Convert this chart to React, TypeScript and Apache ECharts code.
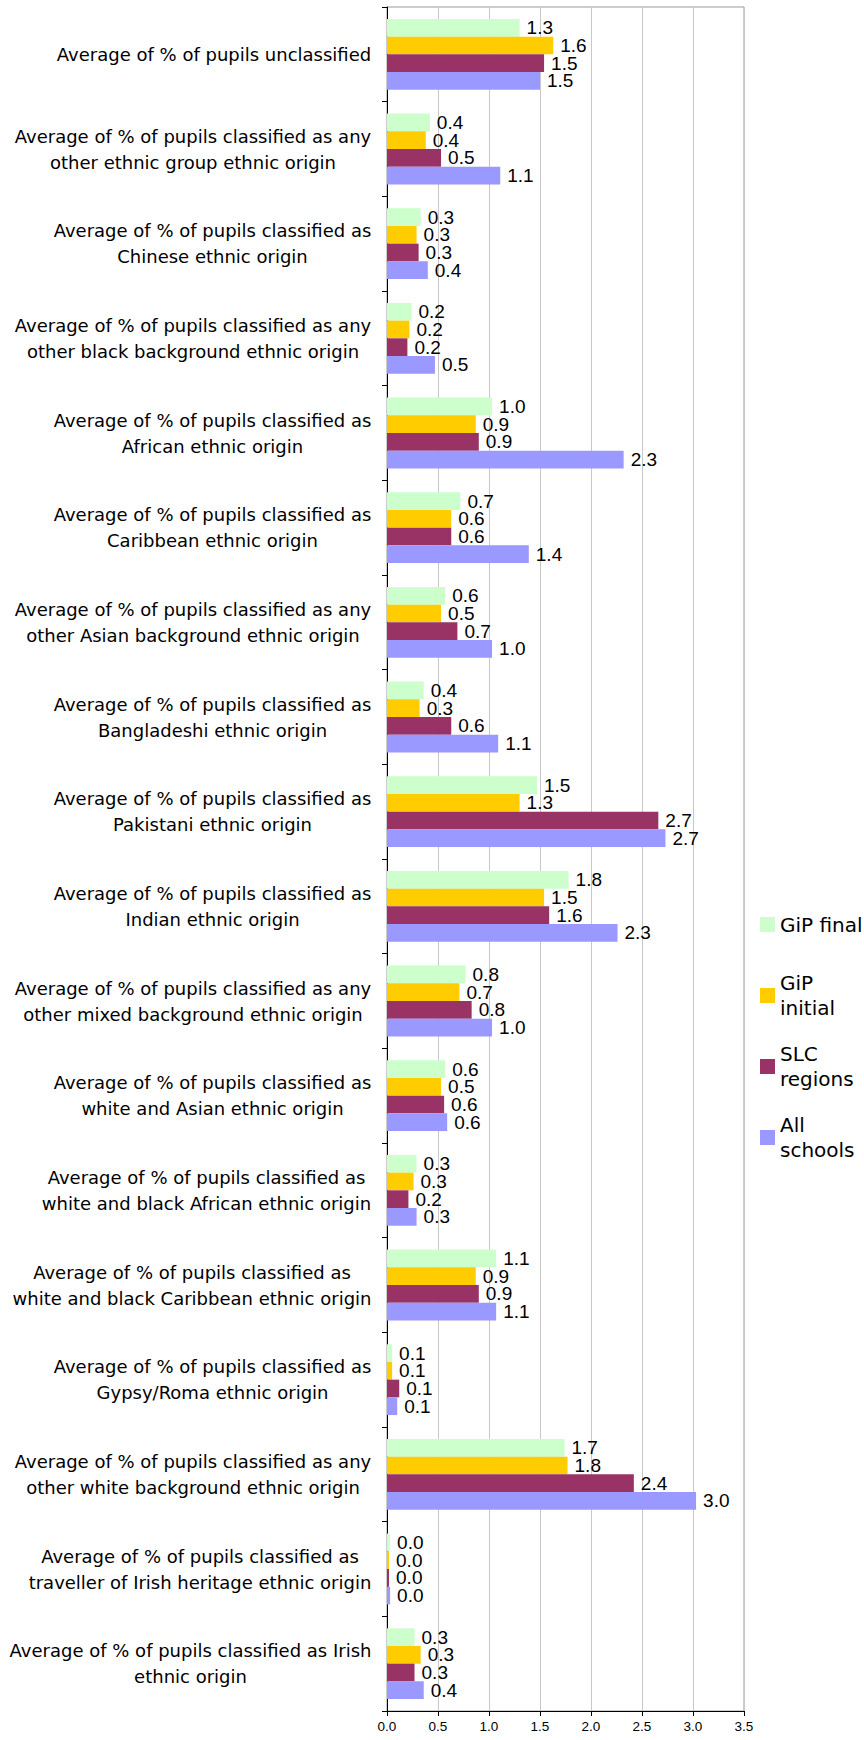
import React, { useEffect, useRef } from "react";
import * as echarts from "echarts";

const categories: string[] = [
  "Average of % of pupils unclassified",
  "Average of % of pupils classified as any\nother ethnic group ethnic origin",
  "Average of % of pupils classified as\nChinese ethnic origin",
  "Average of % of pupils classified as any\nother black background ethnic origin",
  "Average of % of pupils classified as\nAfrican ethnic origin",
  "Average of % of pupils classified as\nCaribbean ethnic origin",
  "Average of % of pupils classified as any\nother Asian background ethnic origin",
  "Average of % of pupils classified as\nBangladeshi ethnic origin",
  "Average of % of pupils classified as\nPakistani ethnic origin",
  "Average of % of pupils classified as\nIndian ethnic origin",
  "Average of % of pupils classified as any\nother mixed background ethnic origin",
  "Average of % of pupils classified as\nwhite and Asian ethnic origin",
  "Average of % of pupils classified as\nwhite and black African ethnic origin",
  "Average of % of pupils classified as\nwhite and black Caribbean ethnic origin",
  "Average of % of pupils classified as\nGypsy/Roma ethnic origin",
  "Average of % of pupils classified as any\nother white background ethnic origin",
  "Average of % of pupils classified as\ntraveller of Irish heritage ethnic origin",
  "Average of % of pupils classified as Irish\nethnic origin",
];

const seriesNames: string[] = ["GiP final", "GiP initial", "SLC regions", "All schools"];

const gipFinal: number[] = [1.30, 0.42, 0.33, 0.24, 1.03, 0.72, 0.57, 0.36, 1.47, 1.78, 0.77, 0.57, 0.29, 1.07, 0.05, 1.74, 0.03, 0.27];
const gipInitial: number[] = [1.63, 0.38, 0.29, 0.22, 0.87, 0.63, 0.53, 0.32, 1.30, 1.54, 0.71, 0.53, 0.26, 0.87, 0.05, 1.77, 0.02, 0.33];
const slcRegions: number[] = [1.54, 0.53, 0.31, 0.20, 0.90, 0.63, 0.69, 0.63, 2.66, 1.59, 0.83, 0.56, 0.21, 0.90, 0.12, 2.42, 0.02, 0.27];
const allSchools: number[] = [1.50, 1.11, 0.40, 0.47, 2.32, 1.39, 1.03, 1.09, 2.73, 2.26, 1.03, 0.59, 0.29, 1.07, 0.10, 3.03, 0.03, 0.36];

const seriesColors: string[] = ["#CCFFCC", "#FFCC00", "#993366", "#9999FF"];

const xTicks = { min: 0, max: 3.5, interval: 0.5 };

const CAT_FAMILY = "DejaVu Sans";
const CAT_SIZE = 18;

function maxLineWidth(text: string): number {
  const ctx = document.createElement("canvas").getContext("2d");
  if (!ctx) return 300;
  ctx.font = `${CAT_SIZE}px "${CAT_FAMILY}"`;
  return Math.max(...text.split("\n").map((l) => ctx.measureText(l).width));
}

export default function App() {
  const ref = useRef<HTMLDivElement>(null);

  useEffect(() => {
    document.body.style.margin = "0";
    if (!ref.current) return;
    const chart = echarts.init(ref.current, undefined, { renderer: "svg" });

    const rich: Record<string, any> = {};
    categories.forEach((c, i) => {
      rich["c" + i] = {
        width: Math.ceil(maxLineWidth(c)) + 1,
        align: "center",
        fontFamily: CAT_FAMILY,
        fontSize: CAT_SIZE,
        lineHeight: 26,
        color: "#000",
      };
    });
    const indexOf: Record<string, number> = {};
    categories.forEach((c, i) => (indexOf[c] = i));

    const data = [gipFinal, gipInitial, slcRegions, allSchools];
    const labelFont = "Liberation Sans";

    chart.setOption({
      animation: false,
      backgroundColor: "#ffffff",
      grid: {
        left: 387,
        right: 120,
        top: 7,
        bottom: 29,
        show: true,
        borderColor: "#9a9a9a",
        borderWidth: 1,
        containLabel: false,
        outerBoundsMode: "none",
      },
      legend: {
        orient: "vertical",
        left: 760,
        top: 887,
        padding: 0,
        itemWidth: 15,
        itemHeight: 15,
        itemGap: -4,
        icon: "rect",
        formatter: (name: string) => (name === "GiP final" ? name : name.replace(" ", "\n")),
        textStyle: {
          fontFamily: "DejaVu Sans",
          fontSize: 20,
          lineHeight: 25,
          color: "#000",
        },
        data: seriesNames.map((n, i) => ({
          name: n,
          textStyle: { padding: i === 0 ? [25, 0, 25, 0] : [25, 0, 0, 0] },
        })),
      },
      xAxis: {
        type: "value",
        min: xTicks.min,
        max: xTicks.max,
        interval: xTicks.interval,
        axisLine: { show: true, lineStyle: { color: "#000", width: 1 } },
        axisTick: { show: true, length: 5, lineStyle: { color: "#000" } },
        axisLabel: {
          color: "#000",
          fontFamily: labelFont,
          fontSize: 13.5,
          margin: 8,
          formatter: (v: number) => v.toFixed(1),
        },
        splitLine: { show: true, lineStyle: { color: "#c8c8c8", width: 1 } },
      },
      yAxis: {
        type: "category",
        inverse: true,
        data: categories,
        axisLine: { show: true, lineStyle: { color: "#000", width: 1 } },
        axisTick: { show: true, length: 5, lineStyle: { color: "#000" } },
        axisLabel: {
          interval: 0,
          margin: 15,
          color: "#000",
          fontFamily: CAT_FAMILY,
          fontSize: CAT_SIZE,
          lineHeight: 26,
          formatter: (value: string) => {
            const i = indexOf[value] ?? 0;
            return value
              .split("\n")
              .map((l) => `{c${i}|${l}}`)
              .join("\n");
          },
          rich,
        },
        splitLine: { show: false },
      },
      series: seriesNames.map((name, i) => ({
        name,
        type: "bar",
        data: data[i],
        barWidth: 17.7,
        barGap: "0%",
        itemStyle: { color: seriesColors[i] },
        label: {
          show: true,
          position: "right",
          distance: 7,
          color: "#000",
          fontFamily: labelFont,
          fontSize: 19,
          formatter: (p: any) => Number(p.value).toFixed(1),
        },
      })),
    });

    return () => chart.dispose();
  }, []);

  return (
    <div
      ref={ref}
      style={{ position: "absolute", left: 0, top: 0, width: 864, height: 1740 }}
    />
  );
}
